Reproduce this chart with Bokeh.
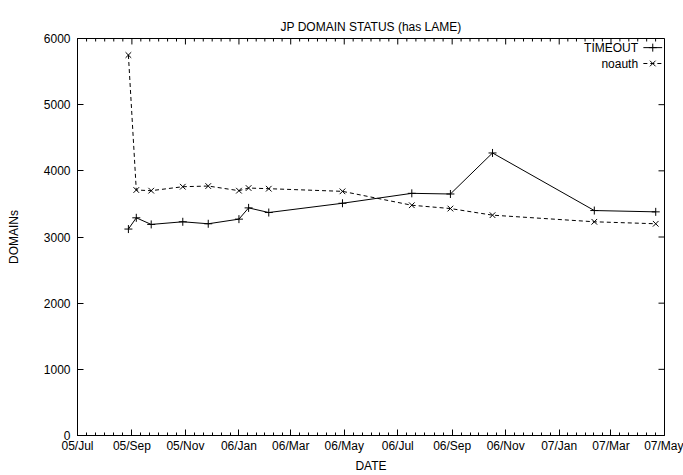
import numpy as np
import pandas as pd
from bokeh.plotting import figure
from bokeh.models import FixedTicker, DatetimeTickFormatter, Range1d, Label
from bokeh.embed import file_html
from bokeh.resources import INLINE

# ---- data ----
dates = ["2005-08-28", "2005-09-06", "2005-09-23", "2005-10-29", "2005-11-27",
         "2006-01-01", "2006-01-12", "2006-02-04", "2006-04-29", "2006-07-17",
         "2006-08-30", "2006-10-17", "2007-02-10", "2007-04-21"]
timeout = [3120, 3290, 3190, 3230, 3200, 3270, 3440, 3370, 3510, 3660, 3650, 4270, 3400, 3380]
noauth = [5750, 3710, 3700, 3760, 3770, 3700, 3740, 3730, 3690, 3480, 3430, 3330, 3230, 3200]

month_ticks = ["2005-07-01", "2005-09-01", "2005-11-01", "2006-01-01", "2006-03-01",
               "2006-05-01", "2006-07-01", "2006-09-01", "2006-11-01", "2007-01-01",
               "2007-03-01", "2007-05-01"]
y_ticks = [0, 1000, 2000, 3000, 4000, 5000, 6000]

FONT = "Liberation Sans"
DASH = "4 3"

# ---- layout (pixels) ----
W, H = 683, 475
BL, BR, BT, BB = 77, 19, 38, 38
FW, FH = W - BL - BR, H - BT - BB


def ms(s):
    return pd.Timestamp(s).value / 1e6


x = [pd.Timestamp(d) for d in dates]
major = [ms(d) for d in month_ticks]
minor = []
for a, b in zip(major[:-1], major[1:]):
    minor += list(np.linspace(a, b, 7)[1:-1])

x0, x1 = major[0], major[-1]
y0, y1 = y_ticks[0], y_ticks[-1]
ux = (x1 - x0) / FW   # data units per pixel
uy = (y1 - y0) / FH

p = figure(width=W, height=H, output_backend="svg", toolbar_location=None,
           x_axis_type="datetime", x_range=Range1d(x0, x1), y_range=Range1d(y0, y1),
           min_border_left=BL, min_border_right=BR, min_border_top=BT, min_border_bottom=BB)

p.title.text = "JP DOMAIN STATUS (has LAME)"
p.title.align = "center"
p.title.text_font = FONT
p.title.text_font_size = "12px"
p.title.text_font_style = "normal"
p.title.text_color = "black"

p.grid.visible = False
p.outline_line_color = "black"
p.outline_line_width = 1
p.background_fill_color = "white"
p.border_fill_color = "white"

fmt = DatetimeTickFormatter(microseconds="%y/%b", milliseconds="%y/%b", seconds="%y/%b",
                            minsec="%y/%b", minutes="%y/%b", hourmin="%y/%b", hours="%y/%b",
                            days="%y/%b", months="%y/%b", years="%y/%b")
xt = FixedTicker(ticks=major, minor_ticks=minor)
yt = FixedTicker(ticks=y_ticks, minor_ticks=[])


def style(ax):
    ax.axis_line_color = "black"
    ax.major_tick_line_color = "black"
    ax.minor_tick_line_color = "black"
    ax.major_tick_in = 6
    ax.major_tick_out = 0
    ax.minor_tick_in = 3
    ax.minor_tick_out = 0
    ax.major_label_text_font = FONT
    ax.major_label_text_font_size = "12px"
    ax.major_label_text_color = "black"
    ax.axis_label_text_font = FONT
    ax.axis_label_text_font_size = "12px"
    ax.axis_label_text_font_style = "normal"
    ax.axis_label_text_color = "black"


xa = p.xaxis[0]
xa.ticker = xt
xa.formatter = fmt
xa.axis_label = "DATE"
style(xa)
xa.major_label_standoff = 3
xa.axis_label_standoff = 3

ya = p.yaxis[0]
ya.ticker = yt
ya.axis_label = "DOMAINs"
style(ya)
ya.major_label_standoff = 7
ya.axis_label_standoff = 20

# mirrored ticks on top and right border (gnuplot style)
tx = major + minor
tl = [6] * len(major) + [3] * len(minor)
p.segment(x0=tx, y0=[y1] * len(tx), x1=tx, y1=[y1 - l * uy for l in tl],
          line_color="black", line_width=1)
p.segment(x0=[x1] * len(y_ticks), y0=y_ticks, x1=[x1 - 6 * ux] * len(y_ticks), y1=y_ticks,
          line_color="black", line_width=1)

# series
p.line(x, timeout, line_color="black", line_width=1)
p.scatter(x, timeout, marker="cross", size=8, line_color="black", line_width=1)
p.line(x, noauth, line_color="black", line_width=1, line_dash=DASH)
p.scatter(x, noauth, marker="x", size=8, line_color="black", line_width=1)


# manual gnuplot-style legend (text, then sample) in the top right corner
def fx(f):
    return x0 + f * (x1 - x0)


def fy(f):
    return y0 + f * (y1 - y0)


rows = [("TIMEOUT", "solid", "cross", 8, 0.977), ("noauth", DASH, "x", 8, 0.937)]
for name, dash, mk, sz, yf in rows:
    p.add_layout(Label(x=fx(0.955), y=fy(yf), text=name, text_align="right",
                       text_baseline="middle", text_font=FONT, text_font_size="12px",
                       text_color="black"))
    p.line([fx(0.964), fx(0.996)], [fy(yf), fy(yf)], line_color="black", line_width=1,
           line_dash=dash)
    p.scatter([fx(0.980)], [fy(yf)], marker=mk, size=sz, line_color="black", line_width=1)

open("out.html", "w").write(file_html(p, INLINE))
